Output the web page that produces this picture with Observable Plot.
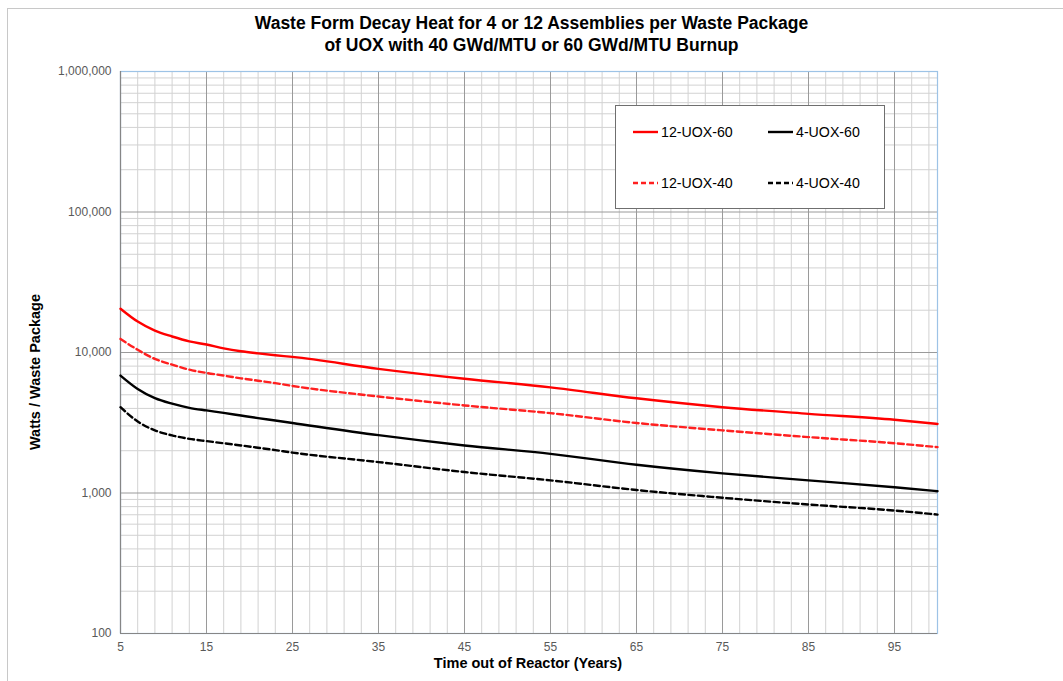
<!DOCTYPE html>
<html>
<head>
<meta charset="utf-8">
<script src="https://cdn.jsdelivr.net/npm/d3@7"></script>
<script src="https://cdn.jsdelivr.net/npm/@observablehq/plot@0.6"></script>
<style>
  html, body { margin: 0; padding: 0; background: #fff; }
  body { width: 1063px; height: 681px; position: relative; overflow: hidden; font-family: "Liberation Sans", Arial, sans-serif; }
  #border { position: absolute; left: 7px; top: 8px; width: 1200px; height: 800px; border-left: 1px solid #c8c8c8; border-top: 1px solid #c8c8c8; }
  #chart { position: absolute; left: 0; top: 0; }
  #title { position: absolute; left: 0; top: 12px; width: 1063px; text-align: center; font-weight: bold; font-size: 17.5px; line-height: 22px; color: #000; }
  #ylabel { position: absolute; left: 35px; top: 372px; transform: translate(-50%, -50%) rotate(-90deg); font-weight: bold; font-size: 14.5px; white-space: nowrap; color: #000; }
  #xlabel { position: absolute; left: 528px; top: 663px; transform: translate(-50%, -50%); font-weight: bold; font-size: 14.5px; white-space: nowrap; color: #000; }
  #legend { position: absolute; left: 615px; top: 105px; width: 268px; height: 102px; border: 1px solid #6f6f6f; background: #fff; }
</style>
</head>
<body>
<div id="border"></div>
<div id="chart"></div>
<div id="title">Waste Form Decay Heat for 4 or 12 Assemblies per Waste Package<br>of UOX with 40 GWd/MTU or 60 GWd/MTU Burnup</div>
<div id="ylabel">Watts / Waste Package</div>
<div id="xlabel">Time out of Reactor (Years)</div>
<div id="legend"></div>
<script>
// ---- Data ----
const years    = [5, 7, 9, 11, 13, 15, 17, 19, 21, 23, 25, 35, 45, 55, 65, 75, 85, 95, 100];
const uox12_60 = [20500, 16600, 14300, 13000, 12000, 11400, 10700, 10200, 9850, 9550, 9300, 7650, 6500, 5650, 4720, 4080, 3660, 3320, 3100];
const uox12_40 = [12500, 10450, 9000, 8200, 7550, 7150, 6850, 6550, 6300, 6050, 5780, 4860, 4200, 3700, 3150, 2790, 2500, 2260, 2120];
const uox4_60  = [6850, 5500, 4730, 4320, 4040, 3870, 3720, 3560, 3410, 3280, 3150, 2580, 2180, 1900, 1590, 1380, 1230, 1100, 1030];
const uox4_40  = [4080, 3230, 2790, 2570, 2430, 2340, 2260, 2180, 2100, 2020, 1940, 1660, 1410, 1230, 1050, 925, 828, 750, 702];

const seriesNames = ["12-UOX-60", "4-UOX-60", "12-UOX-40", "4-UOX-40"];
const seriesValues = [uox12_60, uox4_60, uox12_40, uox4_40];
const seriesColors = ["#ff0000", "#000000", "#ff2020", "#000000"];
const seriesDash = [null, null, "6,3.5", "6,3.5"];

const xTicks = [5, 15, 25, 35, 45, 55, 65, 75, 85, 95];
const xMinor = d3.range(7, 100, 2).filter(v => !xTicks.includes(v));
const yTicks = [100, 1000, 10000, 100000, 1000000];
const yMinor = [100, 1000, 10000, 100000].flatMap(d => [2,3,4,5,6,7,8,9].map(k => k * d));

const rows = seriesNames.flatMap((name, i) => years.map((yr, j) => ({series: name, year: yr, value: seriesValues[i][j]})));

const lineMarks = seriesNames.map((name, i) =>
  Plot.line(rows.filter(r => r.series === name), {
    x: "year", y: "value", stroke: seriesColors[i], strokeWidth: 2.4,
    strokeDasharray: seriesDash[i] || undefined, curve: "monotone-x"
  })
);

const chart = Plot.plot({
  width: 1063, height: 681,
  marginLeft: 120, marginRight: 126, marginTop: 71, marginBottom: 48,
  style: {fontFamily: "'Liberation Sans', Arial, sans-serif", background: "transparent"},
  x: {domain: [5, 100]},
  y: {type: "log", domain: [100, 1000000]},
  marks: [
    Plot.ruleX(xMinor, {stroke: "#d2d2d2", strokeWidth: 1}),
    Plot.ruleY(yMinor, {stroke: "#d2d2d2", strokeWidth: 1}),
    Plot.ruleX(xTicks, {stroke: "#9a9a9a", strokeWidth: 1}),
    Plot.ruleY(yTicks, {stroke: "#9a9a9a", strokeWidth: 1}),
    Plot.frame({stroke: "#9dc3e6", strokeWidth: 1.2}),
    Plot.ruleX([5], {stroke: "#868686", strokeWidth: 1.2}),
    Plot.ruleY([100], {stroke: "#868686", strokeWidth: 1.2}),
    Plot.axisX({ticks: xTicks, tickSize: 0, tickPadding: 9, tickFormat: d => String(d), label: null, fontSize: 12, color: "#595959"}),
    Plot.axisY({ticks: yTicks, tickSize: 0, tickPadding: 9, tickFormat: d3.format(","), label: null, fontSize: 12, color: "#595959"}),
    ...lineMarks
  ]
});
document.getElementById("chart").appendChild(chart);

// ---- Legend ----
const leg = d3.select("#legend").append("svg").attr("width", 268).attr("height", 102);
const pos = [[17, 26], [152, 26], [17, 77], [152, 77]];
seriesNames.forEach((name, i) => {
  const [lx, ly] = pos[i];
  leg.append("line").attr("x1", lx).attr("x2", lx + 25).attr("y1", ly).attr("y2", ly)
    .attr("stroke", seriesColors[i]).attr("stroke-width", 2.4)
    .attr("stroke-dasharray", seriesDash[i] ? "5,3" : null);
  leg.append("text").attr("x", lx + 28).attr("y", ly).attr("dy", "0.36em")
    .attr("font-size", 14.2).attr("fill", "#000")
    .attr("font-family", "'Liberation Sans', Arial, sans-serif").text(name);
});
</script>
</body>
</html>
